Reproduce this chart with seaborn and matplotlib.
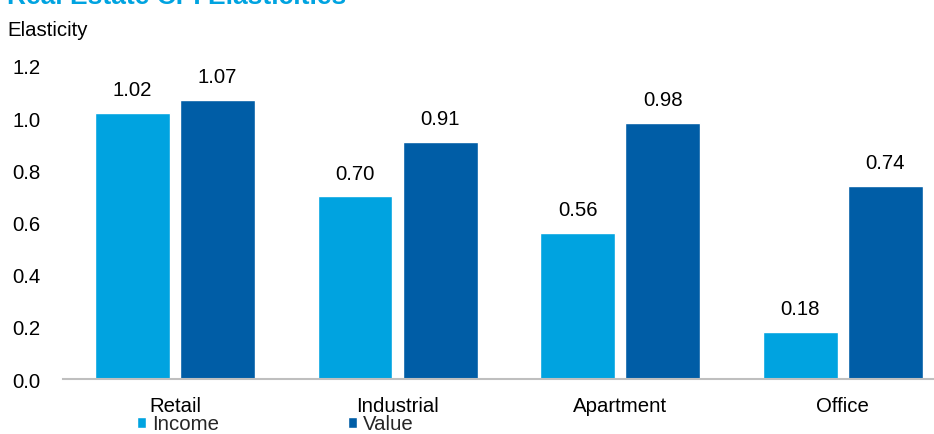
import matplotlib
matplotlib.use("Agg")
import matplotlib.pyplot as plt
import seaborn as sns
import pandas as pd

categories = ["Retail", "Industrial", "Apartment", "Office"]
income = [1.02, 0.70, 0.56, 0.18]
value = [1.07, 0.91, 0.98, 0.74]
series_names = ["Income", "Value"]
y_ticks = [0.0, 0.2, 0.4, 0.6, 0.8, 1.0, 1.2]

df = pd.DataFrame({
    "Property": categories * 2,
    "Elasticity": income + value,
    "Series": [series_names[0]] * len(categories) + [series_names[1]] * len(categories),
})

sns.set_theme(style="white")
plt.rcParams["font.family"] = ["Liberation Sans", "DejaVu Sans"]

palette = {"Income": "#00A3E0", "Value": "#005DA6"}
fs = 14.7

fig = plt.figure(figsize=(9.34, 4.35), dpi=100)
ax = fig.add_axes([0.0675, 0.1264, 0.9325, 0.7196])

sns.barplot(data=df, x="Property", y="Elasticity", hue="Series",
            palette=palette, width=0.765, gap=0.12, saturation=1,
            order=categories, hue_order=series_names, ax=ax)

ax.set_xlim(-0.503, 3.41)
ax.set_ylim(0, 1.2)
ax.set_yticks(y_ticks)
ax.set_yticklabels([f"{t:.1f}" for t in y_ticks])
ax.set_xlabel("")
ax.set_ylabel("")

for side in ["top", "right", "left"]:
    ax.spines[side].set_visible(False)
ax.spines["bottom"].set_color("#BFBFBF")
ax.spines["bottom"].set_linewidth(1.5)

ax.tick_params(axis="y", length=0, pad=16, labelsize=fs, labelcolor="#000000")
ax.tick_params(axis="x", length=0, pad=12, labelsize=fs, labelcolor="#000000")

for container in ax.containers:
    ax.bar_label(container, fmt="%.2f", padding=10, fontsize=fs, color="#000000")

handles, labels = ax.get_legend_handles_labels()
ax.legend(handles, labels, loc="center left", bbox_to_anchor=(137 / 934, 1 - 425 / 435),
          bbox_transform=fig.transFigure, ncol=2, frameon=False,
          fontsize=fs, handlelength=0.45, handleheight=0.45,
          handletextpad=0.3, columnspacing=6.3, borderpad=0, borderaxespad=0)

fig.text(0.008, 1 - 3.5 / 435, "Real Estate CPI Elasticities", color="#00A3E0",
         fontsize=19, fontweight="bold", va="baseline", ha="left")
fig.text(0.008, 1 - 36 / 435, "Elasticity", fontsize=fs, color="#000000",
         va="baseline", ha="left")

fig.savefig("out.png", dpi=100)
